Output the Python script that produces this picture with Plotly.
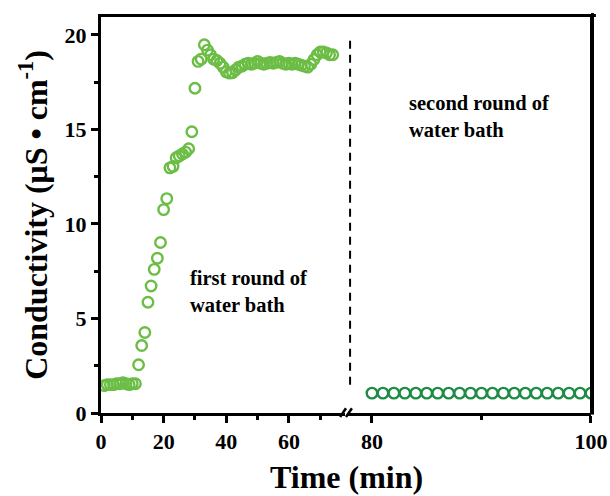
import plotly.graph_objects as go

# ---- data ----
t_first = [1, 2, 3, 4, 5, 6, 7, 8, 9, 10, 11,
           12, 13, 14, 15, 16, 17, 18, 19, 20, 21,
           22, 23, 24, 25, 26, 27, 28, 29, 30, 31, 32,
           33, 34, 35, 36, 37, 38, 39, 40, 41, 42, 43, 44,
           45, 46, 47, 48, 49, 50, 51, 52, 53, 54, 55, 56, 57, 58, 59,
           60, 61, 62, 63, 64, 65, 66, 67, 68, 69, 70, 71, 72, 73, 74]
cond_first = [1.45, 1.5, 1.5, 1.5, 1.55, 1.55, 1.6, 1.55, 1.5, 1.55, 1.55,
              2.55, 3.57, 4.26, 5.86, 6.72, 7.6, 8.19, 9.02, 10.76, 11.34,
              12.97, 13.05, 13.5, 13.6, 13.7, 13.8, 13.98, 14.88, 17.18, 18.6, 18.72,
              19.48, 19.2, 18.95, 18.72, 18.65, 18.5, 18.3, 18.05, 17.98, 18.0, 18.15, 18.3,
              18.35, 18.45, 18.5, 18.45, 18.5, 18.6, 18.5, 18.45, 18.5, 18.55, 18.5, 18.55, 18.6, 18.5, 18.45,
              18.5, 18.45, 18.5, 18.45, 18.4, 18.35, 18.3, 18.45, 18.7, 18.95, 19.1, 19.1, 19.05, 18.95, 18.95]

t_second = [80, 81, 82, 83, 84, 85, 86, 87, 88, 89, 90,
            91, 92, 93, 94, 95, 96, 97, 98, 99, 100]
cond_second = [1.05, 1.05, 1.05, 1.05, 1.05, 1.05, 1.05, 1.05, 1.05, 1.05, 1.05,
               1.05, 1.05, 1.05, 1.05, 1.05, 1.05, 1.05, 1.05, 1.05, 1.05]

x1_ticks = [0, 20, 40, 60]
x1_minor = [10, 30, 50, 70]
x2_ticks = [80, 100]
x2_minor = [90]
y_ticks = [0, 5, 10, 15, 20]
y_minor = [2.5, 7.5, 12.5, 17.5]

LIGHT = "#6cbd45"
DARK = "#1e8c45"
FONT = "Liberation Serif"
Y_RANGE = [0, 20.95]

fig = go.Figure()
fig.add_trace(go.Scatter(
    x=t_first, y=cond_first, mode="markers", xaxis="x", yaxis="y",
    marker=dict(symbol="circle-open", size=10.5, color=LIGHT, line=dict(width=2.4, color=LIGHT)),
    showlegend=False))
fig.add_trace(go.Scatter(
    x=t_second, y=cond_second, mode="markers", xaxis="x2", yaxis="y",
    marker=dict(symbol="circle-open", size=10.5, color=DARK, line=dict(width=2.4, color=DARK)),
    showlegend=False))
# empty trace on a free right-hand axis (right border of the frame)
fig.add_trace(go.Scatter(x=[], y=[], xaxis="x2", yaxis="y2", showlegend=False, hoverinfo="skip"))

d1 = 0.4985
d2 = 0.5025

axis_common = dict(
    showline=True, linecolor="black", linewidth=3,
    ticks="outside", ticklen=7, tickwidth=2.5, tickcolor="black",
    showgrid=False, zeroline=False,
    tickfont=dict(family=FONT, size=22, color="black", weight="bold"),
)
minor_common = dict(ticks="outside", ticklen=4, tickwidth=2.5, tickcolor="black")

fig.update_layout(
    width=610, height=496,
    margin=dict(l=101, r=19, t=17, b=83, autoexpand=False),
    paper_bgcolor="white", plot_bgcolor="rgba(0,0,0,0)",
    xaxis=dict(domain=[0, d1], range=[0, 78.0], tickvals=x1_ticks, anchor="y", mirror=True,
               minor=dict(tickvals=x1_minor, **minor_common), **axis_common),
    xaxis2=dict(domain=[d2, 1], range=[77.74, 100], tickvals=x2_ticks, anchor="y", mirror=True,
                minor=dict(tickvals=x2_minor, **minor_common), **axis_common),
    yaxis=dict(range=Y_RANGE, tickvals=y_ticks, anchor="x",
               minor=dict(tickvals=y_minor, **minor_common),
               title=dict(text="<b>Conductivity (μS • cm<sup>-1</sup>)</b>",
                          font=dict(family=FONT, size=32, color="black"), standoff=8),
               **axis_common),
    yaxis2=dict(range=Y_RANGE, overlaying="y", anchor="free", position=1.0, side="right",
                showline=True, linecolor="black", linewidth=3, ticks="",
                showticklabels=False, showgrid=False, zeroline=False),
)

# x-axis title spanning both segments
fig.add_annotation(text="<b>Time (min)</b>", xref="paper", yref="paper", x=0.5, y=0,
                   yshift=-64, xanchor="center", yanchor="middle", showarrow=False,
                   font=dict(family=FONT, size=32, color="black"))

# text labels
fig.add_annotation(text="<b>first round of<br>water bath</b>", xref="x", yref="y",
                   x=27.8, y=6.45, xanchor="left", yanchor="middle", align="left",
                   showarrow=False, font=dict(family=FONT, size=20.5, color="black"))
fig.add_annotation(text="<b>second round of<br>water bath</b>", xref="x2", yref="y",
                   x=83.2, y=15.66, xanchor="left", yanchor="middle", align="left",
                   showarrow=False, font=dict(family=FONT, size=20.5, color="black"))

# dashed separator
fig.add_shape(type="line", xref="x2", yref="y", x0=78.0, x1=78.0, y0=1.5, y1=20,
              line=dict(color="black", width=2, dash="8px,6px"))

# frame drawn as short overlapping segments (top border and right border)
top_y = 1 + 1.5 / 396
right_x = 1 + 1.5 / 490
n_seg = 20
for i in range(n_seg):
    a = -0.004 + i * (1.01 / n_seg)
    fig.add_shape(type="line", xref="paper", yref="paper", x0=a, x1=a + 1.01 / n_seg + 0.004,
                  y0=top_y, y1=top_y, line=dict(color="black", width=3))
for i in range(n_seg):
    a = -0.004 + i * (1.01 / n_seg)
    fig.add_shape(type="line", xref="paper", yref="paper", x0=right_x, x1=right_x,
                  y0=a, y1=a + 1.01 / n_seg + 0.004, line=dict(color="black", width=3))

# axis break marks
for xa, xb in [(0.488, 0.500), (0.500, 0.512)]:
    fig.add_shape(type="line", xref="paper", yref="paper", x0=xa, x1=xb, y0=-0.010, y1=0.012,
                  line=dict(color="black", width=2.5))

fig.write_html("out.html", config={"displayModeBar": False},
               post_script="document.body.style.margin='0';document.body.style.overflow='hidden';")
